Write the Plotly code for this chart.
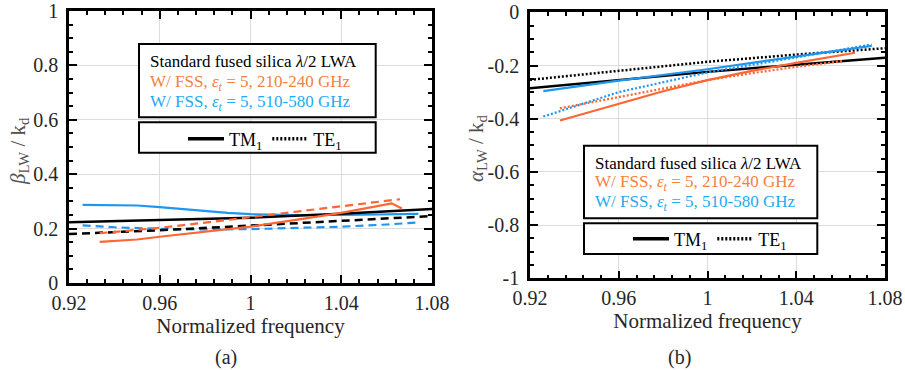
import plotly.graph_objects as go

# ---------------- data ----------------
# x values (normalized frequency)
freq_std = [0.92, 0.96, 1.0, 1.04, 1.08]

# (a) beta_LW / k_d
beta_std_tm = [0.223, 0.231, 0.240, 0.255, 0.272]
beta_std_te = [0.180, 0.194, 0.211, 0.228, 0.246]

freq_lo_b_tm = [0.9335, 0.95, 0.96, 0.98, 1.0, 1.02, 1.04, 1.0622, 1.0667]
beta_lo_tm = [0.151, 0.160, 0.170, 0.188, 0.207, 0.232, 0.258, 0.293, 0.274]
freq_lo_b_te = [0.9335, 0.96, 0.98, 1.0, 1.02, 1.04, 1.0659]
beta_lo_te = [0.183, 0.203, 0.222, 0.242, 0.262, 0.281, 0.308]

freq_hi_b_tm = [0.926, 0.94, 0.95, 0.96, 0.97, 0.98, 0.99, 1.0, 1.02, 1.04, 1.06, 1.074]
beta_hi_tm = [0.287, 0.287, 0.285, 0.279, 0.272, 0.264, 0.258, 0.253, 0.250, 0.250, 0.252, 0.254]
freq_hi_b_te = [0.926, 0.94, 0.96, 0.98, 1.0, 1.02, 1.04, 1.06, 1.073]
beta_hi_te = [0.212, 0.205, 0.199, 0.197, 0.198, 0.202, 0.207, 0.215, 0.222]

# (b) alpha_LW / k_d
alpha_std_tm = [-0.286, -0.255, -0.224, -0.197, -0.171]
alpha_std_te = [-0.254, -0.220, -0.186, -0.159, -0.135]

freq_lo_a_tm = [0.9335, 0.96, 0.98, 1.0, 1.02, 1.04, 1.0665]
alpha_lo_tm = [-0.407, -0.345, -0.297, -0.255, -0.220, -0.190, -0.152]
freq_lo_a_te = [0.9335, 0.96, 0.98, 1.0, 1.02, 1.04, 1.061]
alpha_lo_te = [-0.361, -0.318, -0.285, -0.255, -0.229, -0.205, -0.183]

freq_hi_a = [0.926, 0.96, 1.0, 1.04, 1.074]
alpha_hi_tm = [-0.296, -0.257, -0.214, -0.167, -0.126]
alpha_hi_te = [-0.392, -0.300, -0.226, -0.168, -0.121]

# ticks
x_ticks = [0.92, 0.96, 1.0, 1.04, 1.08]
x_ticktext = ["0.92", "0.96", "1", "1.04", "1.08"]
ya_ticks = [0, 0.2, 0.4, 0.6, 0.8, 1]
ya_ticktext = ["0", "0.2", "0.4", "0.6", "0.8", "1"]
yb_ticks = [-1, -0.8, -0.6, -0.4, -0.2, 0]
yb_ticktext = ["-1", "-0.8", "-0.6", "-0.4", "-0.2", "0"]

legend_lines = ["Standard fused silica <i>λ</i>/2 LWA",
                "W/ FSS, <i>ε<sub>t</sub></i> = 5, 210-240 GHz",
                "W/ FSS, <i>ε<sub>t</sub></i> = 5, 510-580 GHz"]
ytitle_a = "<i>β</i><sub>LW</sub> / k<sub>d</sub>"
ytitle_b = "<i>α</i><sub>LW</sub> / k<sub>d</sub>"
xtitle = "Normalized frequency"

# ---------------- style ----------------
W, H = 905, 370
FONT = "Liberation Serif, Times New Roman, Tinos, DejaVu Serif, serif"
TXT = "#262626"
BLACK = "#000000"
ORANGE = "#FF6633"
BLUE = "#1E96F0"
ORANGE_TXT = "#F5803F"
BLUE_TXT = "#1FAAF0"
GRID = "rgb(220,220,220)"


def px(x):
    return x / W


def py(y):
    return 1 - y / H


fig = go.Figure()


def add(x, y, color, width, dash, xa, ya):
    fig.add_trace(go.Scatter(x=x, y=y, mode="lines", xaxis=xa, yaxis=ya,
                             line=dict(color=color, width=width, dash=dash),
                             showlegend=False, hoverinfo="skip"))


DASH = "8px,5px"
DOT = "2px,2px"

# panel (a)
add(freq_hi_b_tm, beta_hi_tm, BLUE, 2.2, "solid", "x", "y")
add(freq_hi_b_te, beta_hi_te, BLUE, 2.2, DASH, "x", "y")
add(freq_std, beta_std_tm, BLACK, 2.5, "solid", "x", "y")
add(freq_std, beta_std_te, BLACK, 2.5, DASH, "x", "y")
add(freq_lo_b_te, beta_lo_te, ORANGE, 2.2, DASH, "x", "y")
add(freq_lo_b_tm, beta_lo_tm, ORANGE, 2.2, "solid", "x", "y")

# panel (b)
add(freq_std, alpha_std_tm, BLACK, 2.5, "solid", "x2", "y2")
add(freq_std, alpha_std_te, BLACK, 2.5, DOT, "x2", "y2")
add(freq_lo_a_tm, alpha_lo_tm, ORANGE, 2.2, "solid", "x2", "y2")
add(freq_lo_a_te, alpha_lo_te, ORANGE, 2.2, DOT, "x2", "y2")
add(freq_hi_a, alpha_hi_tm, BLUE, 2.2, "solid", "x2", "y2")
add(freq_hi_a, alpha_hi_te, BLUE, 2.2, DOT, "x2", "y2")

# legend-only entries
for lg, xa, ya in (("legend", "x", "y"), ("legend2", "x2", "y2")):
    fig.add_trace(go.Scatter(x=[None], y=[None], mode="lines", name="TM<sub>1</sub>",
                             line=dict(color=BLACK, width=3.5), legend=lg,
                             xaxis=xa, yaxis=ya, showlegend=True))
    fig.add_trace(go.Scatter(x=[None], y=[None], mode="lines", name="TE<sub>1</sub>",
                             line=dict(color=BLACK, width=3.5, dash=DOT), legend=lg,
                             xaxis=xa, yaxis=ya, showlegend=True))

tickfont = dict(family=FONT, size=20, color=TXT)
common_x = dict(range=[0.92, 1.08], tickvals=x_ticks, ticktext=x_ticktext,
                ticks="inside", ticklen=8, tickwidth=1.5, tickcolor=BLACK,
                minor=dict(dtick=0.008, tick0=0.92, ticks="inside", ticklen=4,
                           tickwidth=1.5, tickcolor=BLACK, showgrid=False),
                showgrid=True, gridcolor=GRID, gridwidth=1,
                showline=True, linecolor=BLACK, linewidth=2.5, mirror="ticks",
                zeroline=False, tickfont=tickfont, fixedrange=True, automargin=False,
                ticklabelstandoff=0,
                title=dict(text=xtitle,
                           font=dict(family=FONT, size=21, color=TXT), standoff=0))
common_y = dict(ticks="inside", ticklen=8, tickwidth=1.5, tickcolor=BLACK,
                minor=dict(dtick=0.05, ticks="inside", ticklen=4, tickwidth=1.5,
                           tickcolor=BLACK, showgrid=False),
                showgrid=True, gridcolor=GRID, gridwidth=1,
                showline=True, linecolor=BLACK, linewidth=2.5, mirror="ticks",
                zeroline=False, tickfont=tickfont, fixedrange=True, automargin=False,
                ticklabelstandoff=4)

fig.update_layout(
    width=W, height=H, margin=dict(l=0, r=0, t=0, b=0, autoexpand=False),
    paper_bgcolor="white", plot_bgcolor="white",
    xaxis=dict(domain=[px(69), px(432)], anchor="y", **common_x),
    yaxis=dict(domain=[py(283), py(11)], anchor="x", range=[0, 1],
               tickvals=ya_ticks, ticktext=ya_ticktext, minor_tick0=0, **common_y),
    xaxis2=dict(domain=[px(530), px(885)], anchor="y2", **common_x),
    yaxis2=dict(domain=[py(278.3), py(12.3)], anchor="x2", range=[-1, 0],
                tickvals=yb_ticks, ticktext=yb_ticktext, minor_tick0=0, **common_y),
    legend=dict(orientation="h", x=px(183), y=py(139), xanchor="left", yanchor="middle",
                bgcolor="rgba(0,0,0,0)", borderwidth=0,
                font=dict(family=FONT, size=18, color=BLACK), itemwidth=36,
                tracegroupgap=0),
    legend2=dict(orientation="h", x=px(628), y=py(239), xanchor="left", yanchor="middle",
                 bgcolor="rgba(0,0,0,0)", borderwidth=0,
                 font=dict(family=FONT, size=18, color=BLACK), itemwidth=36,
                 tracegroupgap=0),
)

shapes = []
annotations = []
# legend boxes
for (x0, y0, x1, y1) in [(139, 44, 375.7, 117.3), (139, 122.3, 375.7, 152.7),
                         (584, 145.7, 817.3, 218.3), (584, 223.3, 817.3, 254)]:
    shapes.append(dict(type="rect", xref="paper", yref="paper",
                       x0=px(x0), x1=px(x1), y0=py(y0), y1=py(y1),
                       line=dict(color=BLACK, width=2), fillcolor="white", layer="above"))

colors = [BLACK, ORANGE_TXT, BLUE_TXT]
for tx, ys in ((147.5, [61.7, 82.5, 102.7]), (592.7, [163.3, 183.0, 203.3])):
    for txt, yy, c in zip(legend_lines, ys, colors):
        annotations.append(dict(text=txt, x=px(tx), y=py(yy), xref="paper", yref="paper",
                                xanchor="left", yanchor="middle", showarrow=False,
                                font=dict(family=FONT, size=17, color=c)))

# y-axis titles
for txt, xx, yy in ((ytitle_a, 19, 151), (ytitle_b, 477, 148)):
    annotations.append(dict(text=txt, x=px(xx), y=py(yy), xref="paper", yref="paper",
                            xanchor="center", yanchor="middle", showarrow=False,
                            textangle=-90,
                            font=dict(family=FONT, size=21, color="#505050")))

for lab, xx in (("(a)", 226), ("(b)", 679)):
    annotations.append(dict(text=lab, x=px(xx), y=py(357), xref="paper", yref="paper",
                            xanchor="center", yanchor="middle", showarrow=False,
                            font=dict(family=FONT, size=20, color=TXT)))

fig.update_layout(shapes=shapes, annotations=annotations)

fig.write_html("out.html", config={"displayModeBar": False},
               post_script="document.body.style.margin='0px';document.body.style.padding='0px';")
